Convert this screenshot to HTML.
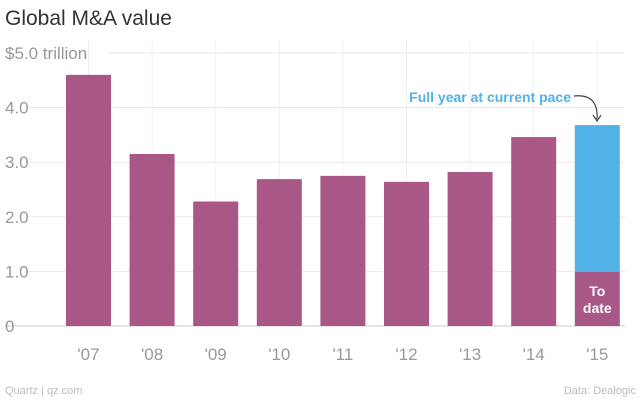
<!DOCTYPE html>
<html><head><meta charset="utf-8"><style>
body{margin:0;background:#fff;}
svg{display:block;font-family:"Liberation Sans",sans-serif;}
</style></head><body>
<svg id="chart" width="640" height="400" viewBox="0 0 640 400">
<text x="5" y="25" font-size="21" fill="#333">Global M&amp;A value</text>
<g id="grid"></g>
<g id="bars"></g>
<g id="labels"></g>
<text x="571" y="102" font-size="14" font-weight="bold" fill="#51b2e5" text-anchor="end">Full year at current pace</text>
<path d="M574 96 C592 94 598 104 597 119" fill="none" stroke="#444" stroke-width="1.2"/>
<path d="M593 115 L597 121 L601 115" fill="none" stroke="#444" stroke-width="1.2"/>
<text x="5" y="394" font-size="11" fill="#bbb">Quartz | qz.com</text>
<text x="636" y="394" font-size="11" fill="#bbb" text-anchor="end">Data: Dealogic</text>
</svg>
<script>
const categories=["'07","'08","'09","'10","'11","'12","'13","'14","'15"];
const values=[4.6,3.15,2.28,2.69,2.75,2.64,2.82,3.46,0.99];
const projected=[null,null,null,null,null,null,null,null,3.68];
const ticks=[0,1,2,3,4,5];
const tickLabels=["0","1.0","2.0","3.0","4.0","$5.0 trillion"];
const NS="http://www.w3.org/2000/svg";
const y=v=>326-v*54.6;
const x=i=>66+i*63.6;
const bw=45;
function mk(t,a,p){const e=document.createElementNS(NS,t);for(const k in a)e.setAttribute(k,a[k]);p.appendChild(e);return e;}
const grid=document.getElementById('grid'),bars=document.getElementById('bars'),labels=document.getElementById('labels');
categories.forEach((c,i)=>{
 const l=mk('line',{x1:x(i)+bw/2,x2:x(i)+bw/2,y1:40,y2:326,stroke:'#f0f0f0','stroke-width':1},grid);
 
 
});
ticks.forEach((t,i)=>{
 const isTop=i===ticks.length-1;
 const g=mk('line',{x1:isTop?108:i===0?5:28,x2:625,y1:y(t),y2:y(t),stroke:i===0?'#ccc':'#e8e8e8','stroke-width':1},grid);
 
 
 const tx=mk('text',{x:5,y:y(t)+6,'font-size':17,fill:'#999'},labels);
 tx.textContent=tickLabels[i];
 
 
});
categories.forEach((c,i)=>{
 if(projected[i]!=null){
  const p=mk('rect',{x:x(i),y:y(projected[i]),width:bw,height:y(values[i])-y(projected[i]),fill:'#51b2e5'},bars);
  
  
 }
 const r=mk('rect',{x:x(i),y:y(values[i]),width:bw,height:326-y(values[i]),fill:'#a85786'},bars);
 
 
 const t=mk('text',{x:x(i)+bw/2,y:360,'font-size':17,fill:'#999','text-anchor':'middle'},labels);
 t.textContent=c;
 
 
});
const last=categories.length-1;
[["To",296],["date",313]].forEach(([s,yy])=>{
 const t=mk('text',{x:x(last)+bw/2,y:yy,'font-size':14,'font-weight':'bold',fill:'#fff','text-anchor':'middle'},labels);
 t.textContent=s;
 
 
});
</script>
</body></html>
